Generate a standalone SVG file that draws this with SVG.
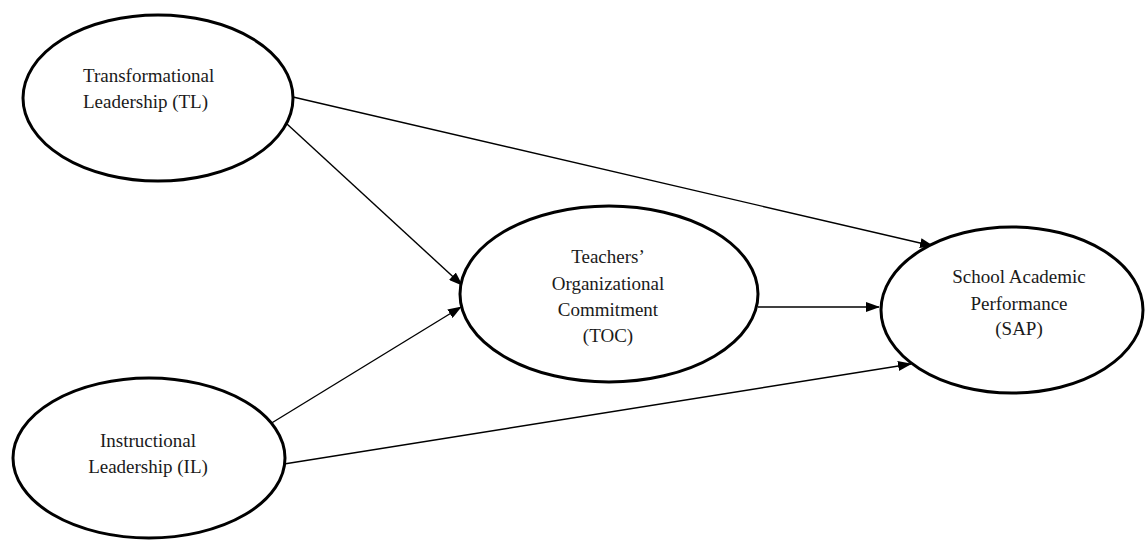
<svg xmlns="http://www.w3.org/2000/svg" width="1145" height="542" viewBox="0 0 1145 542">
<defs>
<style>
.node{fill:#fff;stroke:#000;stroke-width:3}
.lbl{font-family:"Liberation Serif","Times New Roman",serif;font-size:19px;fill:#1a1a1a}
.c{text-anchor:middle}
.edge{stroke:#000;stroke-width:1.4;fill:none;marker-end:url(#arr)}
</style>
<marker id="arr" viewBox="0 0 14 10" refX="13" refY="5" markerWidth="14" markerHeight="10" markerUnits="userSpaceOnUse" orient="auto">
<path d="M0,0 L14,5 L0,10 Z" fill="#000"/>
</marker>
</defs>
<rect width="1145" height="542" fill="#fff"/>
<g id="connectors">
<line class="edge" x1="293" y1="97" x2="933" y2="246"/>
<line class="edge" x1="287" y1="124" x2="462" y2="285"/>
<line class="edge" x1="270" y1="424" x2="461" y2="307"/>
<line class="edge" x1="758" y1="307" x2="879" y2="307"/>
<line class="edge" x1="284" y1="464" x2="911" y2="364"/>
</g>
<g id="TL">
<ellipse class="node" cx="158" cy="98" rx="135" ry="83"/>
<text class="lbl" x="83" y="82">Transformational</text>
<text class="lbl" x="83" y="108">Leadership (TL)</text>
</g>
<g id="IL">
<ellipse class="node" cx="149" cy="458" rx="136" ry="80"/>
<text class="lbl c" x="148" y="447">Instructional</text>
<text class="lbl c" x="148" y="473">Leadership (IL)</text>
</g>
<g id="TOC">
<ellipse class="node" cx="609" cy="294" rx="149" ry="88"/>
<text class="lbl c" x="608" y="263">Teachers’</text>
<text class="lbl c" x="608" y="290">Organizational</text>
<text class="lbl c" x="608" y="316">Commitment</text>
<text class="lbl c" x="608" y="342">(TOC)</text>
</g>
<g id="SAP">
<ellipse class="node" cx="1012" cy="310" rx="131" ry="83"/>
<text class="lbl c" x="1019" y="283">School Academic</text>
<text class="lbl c" x="1019" y="310">Performance</text>
<text class="lbl c" x="1019" y="335">(SAP)</text>
</g>
</svg>
